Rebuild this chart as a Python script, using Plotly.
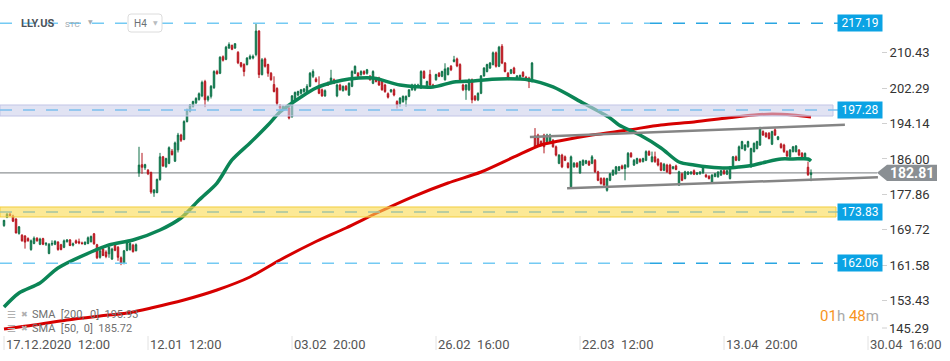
import plotly.graph_objects as go

# ---------------- data ----------------
OPEN = [170.7,172.6,173.3,172.9,172.2,168.9,168.5,168.3,167.7,165.2,166.6,167.8,166.4,167.7,166.4,164.3,166.4,166.4,166.9,166.3,
        165.7,167.0,167.4,166.2,167.2,167.0,166.7,166.4,166.6,167.0,168.8,166.3,163.4,165.3,164.6,164.2,163.0,166.5,165.7,163.3,
        162.0,165.0,165.2,166.2,164.9,
        182.8,184.7,184.0,183.4,182.9,178.2,178.3,181.3,186.5,184.2,185.0,187.8,185.5,188.1,191.5,190.5,194.6,197.0,198.1,198.9,
        199.7,200.5,203.8,199.6,200.4,202.4,206.1,205.7,209.5,208.9,211.5,212.1,211.5,210.5,208.1,207.7,207.7,209.1,209.2,210.0,
        215.4,205.4,209.0,207.7,205.7,203.1,202.2,
        198.2,197.7,198.0,197.7,195.7,199.6,200.7,201.1,201.5,201.1,202.7,205.0,204.4,202.7,201.9,200.5,203.4,203.4,204.2,200.5,
        203.0,201.7,202.7,200.7,202.7,205.7,205.7,205.4,206.1,205.7,205.0,203.4,204.6,204.6,203.8,203.0,201.0,201.5,201.9,199.2,
        198.8,199.2,199.6,200.4,201.9,201.9,202.7,202.3,206.1,202.7,205.4,203.0,204.2,205.7,205.0,204.2,205.4,207.3,208.4,209.0,
        207.7,203.0,201.9,201.9,204.2,200.4,199.6,201.1,205.1,206.1,206.9,207.7,210.4,207.3,211.9,208.05,205.7,205.7,206.9,204.4,
        204.8,205.9,204.8,204.6,203.8,191.3,191.5,190.0,191.5,190.0,190.0,190.3,188.8,185.0,
        186.9,186.5,185.0,179.6,184.2,185.0,182.8,184.6,185.0,185.4,185.0,185.7,183.05,181.5,181.5,178.8,181.1,182.3,182.6,183.4,
        184.4,183.8,184.2,187.3,184.6,185.0,185.9,185.4,185.7,187.7,185.4,186.5,185.9,185.0,183.4,184.6,184.6,183.8,184.4,180.0,
        182.6,181.5,182.5,182.6,183.3,182.5,182.6,182.8,182.3,182.0,180.7,182.0,181.9,182.3,183.3,182.5,181.5,184.2,186.5,185.7,
        188.4,188.05,188.8,184.2,187.7,188.4,189.2,192.3,191.9,191.9,189.4,192.7,190.5,189.4,189.2,187.7,186.5,187.7,187.7,188.05,
        187.3,186.1,184.1,182.4]
HIGH = [172.0,173.6,173.8,173.2,172.4,170.6,168.7,168.5,168.0,167.5,168.2,168.0,167.9,167.9,166.9,166.7,167.3,167.3,167.1,166.5,
        167.5,167.6,167.6,166.8,167.5,167.7,167.0,167.0,168.2,168.4,169.0,166.5,165.2,165.6,165.0,165.9,165.6,166.8,166.0,163.6,
        165.1,167.2,166.9,166.5,166.6,
        188.8,187.4,184.9,183.7,183.1,179.0,181.5,187.4,186.7,186.3,188.9,188.3,190.0,192.0,191.8,194.9,197.6,198.6,199.4,200.2,
        201.3,204.0,204.2,200.6,203.0,206.4,206.5,209.6,209.8,212.0,212.8,212.3,212.6,210.8,208.3,208.0,209.4,210.0,210.0,217.2,
        215.6,209.2,209.3,207.9,206.0,205.0,202.5,
        198.6,198.3,198.3,198.0,200.7,201.5,201.7,202.1,202.3,203.2,206.0,206.6,204.8,205.0,202.2,202.0,203.8,206.5,204.5,203.3,
        203.3,202.9,203.0,203.6,206.4,207.5,206.0,206.4,206.4,206.7,205.3,206.4,204.9,204.9,204.1,203.3,201.3,202.1,202.2,199.5,
        200.2,200.6,200.6,202.0,203.3,203.3,203.3,206.4,206.4,204.0,206.5,203.3,205.6,206.0,206.3,208.0,207.1,207.6,209.7,209.3,
        208.0,203.3,203.3,204.5,204.5,200.7,201.3,205.3,207.1,207.9,208.3,210.7,210.7,212.0,212.4,208.3,206.0,206.7,207.2,205.3,
        205.4,206.2,205.1,204.9,208.3,193.1,191.8,190.3,191.8,191.8,191.8,190.6,189.1,187.1,
        187.2,186.8,185.3,186.8,185.3,185.3,185.6,185.9,185.8,185.7,186.9,186.0,183.3,181.8,181.8,181.7,182.8,183.6,184.4,184.4,
        184.7,184.8,187.6,187.6,186.0,186.3,186.2,186.3,188.0,188.0,187.7,187.7,186.2,185.3,185.1,184.9,184.9,184.4,184.7,183.3,
        182.9,183.3,183.2,183.2,183.6,183.0,183.2,184.4,182.6,182.3,182.5,182.8,183.2,183.5,183.6,183.5,184.4,186.7,186.8,189.1,
        190.2,189.4,190.2,188.6,189.8,190.2,193.4,192.6,192.2,192.2,192.5,193.1,191.3,189.7,189.5,188.0,188.3,189.0,189.2,188.3,
        187.6,187.5,185.4,183.6]
LOW = [170.4,172.4,172.9,171.5,168.9,168.6,167.0,165.4,167.0,164.9,166.4,167.0,166.2,166.2,166.0,164.1,166.0,166.2,164.9,165.0,
       165.5,166.8,166.0,165.9,166.5,166.4,166.3,166.2,166.4,166.8,166.3,163.0,163.1,163.7,163.2,163.3,162.8,164.8,162.6,161.6,
       161.8,164.8,164.9,164.5,164.8,
       181.9,182.6,183.5,182.3,178.0,177.3,178.1,181.0,184.2,184.0,184.8,186.8,185.3,187.5,189.9,190.3,194.4,196.7,197.8,198.6,
       199.4,200.2,197.9,199.2,199.9,202.1,205.4,205.5,208.4,208.7,211.3,211.0,211.3,207.8,207.0,205.0,207.5,208.8,208.9,209.6,
       204.6,205.2,207.0,204.9,204.0,201.3,198.3,
       197.3,197.4,197.2,195.1,195.5,199.4,200.4,200.8,201.2,200.9,202.5,204.6,203.6,200.9,200.3,200.3,202.8,203.2,203.2,200.2,
       201.7,201.5,201.7,200.5,202.5,205.5,204.8,205.1,205.3,205.4,204.0,203.2,203.6,202.8,201.7,201.2,199.9,201.2,200.4,197.6,
       198.0,198.9,198.0,200.2,201.7,201.6,202.5,202.1,204.4,202.5,202.8,202.4,204.0,204.8,204.8,204.0,205.2,206.2,208.2,207.1,
       203.9,201.6,199.6,201.6,198.8,199.3,199.3,200.9,204.9,205.9,206.7,207.5,207.0,207.1,207.8,205.9,204.3,205.5,205.5,204.2,
       204.6,204.8,204.1,202.3,203.6,188.6,189.0,188.9,187.3,189.8,189.7,188.6,186.6,184.8,
       183.9,185.5,183.8,179.4,184.0,184.0,182.6,184.4,184.8,184.4,184.8,182.8,180.9,180.1,179.8,178.5,180.9,182.1,182.4,183.2,
       183.6,181.1,184.0,186.3,184.4,184.8,185.1,185.2,185.5,186.7,185.2,185.1,184.3,183.2,183.2,182.8,182.5,183.6,183.4,179.8,
       180.9,181.3,182.3,182.4,182.3,182.3,182.4,182.6,181.7,181.3,180.5,181.8,181.7,182.1,182.4,182.3,181.3,184.0,185.5,185.5,
       188.2,187.8,188.6,184.0,187.5,188.2,189.0,191.3,190.9,190.5,189.2,191.3,190.3,188.4,187.4,186.4,186.3,187.5,187.5,186.6,
       185.9,185.9,182.1,180.9]
CLOSE = [171.9,173.3,173.0,171.7,169.0,170.4,167.2,166.9,167.2,167.2,167.8,167.2,167.6,166.4,166.6,166.4,166.6,167.1,165.2,165.2,
         167.2,167.4,166.1,166.5,166.7,166.7,166.6,166.9,167.9,168.2,166.5,163.3,164.9,163.8,163.6,165.7,165.3,165.0,163.4,162.0,
         164.9,166.9,166.6,164.7,166.3,
         184.6,184.1,184.7,182.6,178.4,178.9,181.3,186.5,184.4,186.1,188.6,187.0,189.7,191.5,190.3,194.6,197.3,198.4,199.2,199.9,
         201.0,203.6,199.6,200.3,202.7,206.1,205.6,209.4,208.7,211.7,212.3,211.2,212.5,208.1,207.3,206.1,209.2,209.6,209.6,215.4,
         205.4,208.8,207.3,205.7,204.2,201.5,198.8,
         197.7,198.0,197.5,195.4,200.5,201.3,201.5,201.9,202.1,202.7,205.7,206.1,203.8,201.1,200.5,201.7,203.0,204.6,203.4,203.0,
         201.9,202.7,201.9,203.4,206.1,207.3,205.0,206.1,205.6,206.5,204.2,206.1,203.8,203.0,201.9,201.5,200.2,201.9,200.7,198.4,
         200.0,200.4,200.4,201.9,203.0,203.0,203.0,206.1,204.6,203.8,203.0,202.7,205.4,205.0,206.1,206.7,206.9,206.5,208.8,207.4,
         204.2,201.9,203.0,204.2,199.6,199.6,201.1,205.1,206.9,207.7,208.05,210.4,207.3,211.7,208.05,206.1,204.6,206.5,205.7,205.1,
         205.2,205.0,204.4,203.8,208.05,188.8,189.2,189.2,188.8,191.5,191.5,188.8,186.9,186.9,
         184.2,185.7,184.05,186.5,185.0,184.2,185.4,185.7,185.6,184.6,186.5,183.05,181.1,180.35,180.0,181.5,182.6,183.4,184.2,184.2,
         183.8,184.6,187.3,186.5,185.7,186.1,185.4,186.1,187.7,186.9,186.5,185.4,184.6,183.4,184.8,183.05,182.6,184.2,183.6,183.05,
         181.1,183.05,183.0,183.0,182.5,182.8,183.0,184.2,181.9,181.5,182.3,182.6,183.0,183.3,182.6,183.3,184.2,186.5,185.7,188.8,
         190.0,189.2,190.0,188.4,189.6,190.0,193.05,191.5,191.1,190.7,192.3,191.5,191.1,188.6,187.7,186.7,188.05,188.8,189.0,186.9,
         186.1,187.3,182.4,182.81]
assert len(OPEN) == len(HIGH) == len(LOW) == len(CLOSE)
IDX = list(range(len(CLOSE)))

SMA200_IDX = [0,10,21,32,41,49,60,71,82,92,103,114,125,136,148,159,170,179,185,196,208,219,230,241,250,256,263,269]
SMA200_VAL = [146.93,147.85,149.00,149.91,150.60,151.75,153.59,155.89,158.88,162.79,166.69,170.14,173.82,177.26,180.48,
              183.01,186.46,189.22,190.14,191.51,192.66,193.81,194.50,195.42,196.11,196.34,196.11,195.65]
SMA50_IDX = [0,5,12,18,29,35,43,52,59,65,71,76,82,88,92,99,104,110,115,123,132,143,150,156,165,175,183,193,202,205,
             212,219,225,230,235,241,245,250,254,259,263,268,269]
SMA50_VAL = [151.98,155.20,157.50,160.95,164.62,166.23,167.38,169.68,172.44,176.58,180.48,185.77,189.68,193.81,196.80,
             200.25,202.32,203.70,204.39,204.62,203.01,202.55,203.70,203.93,204.39,204.16,202.55,198.87,195.42,193.81,
             191.51,188.53,185.31,184.62,184.16,183.93,184.16,184.62,185.31,186.00,186.00,186.00,185.54]

X_TICK_IDX = [0, 48, 96, 144, 192, 240, 288]
X_TICK_TEXT = ["17.12.2020\u00a0\u00a012:00", "12.01\u00a0\u00a012:00", "03.02\u00a0\u00a020:00", "26.02\u00a0\u00a016:00",
               "22.03\u00a0\u00a012:00", "13.04\u00a0\u00a020:00", "30.04\u00a0\u00a016:00"]
Y_TICK_VALS = [153.43, 161.58, 169.72, 177.86, 186.00, 194.14, 202.29, 210.43]
Y_TICK_LOW = 145.29

LEVEL_TOP = 217.19
LEVEL_ZONE_BLUE = 197.28
LEVEL_ZONE_YELLOW = 173.83
LEVEL_LOW = 162.06
ZONE_BLUE = (195.88, 198.41)
ZONE_YELLOW = (172.67, 174.97)
LAST_PRICE = 182.81
TREND_UPPER = ([175.3, 280.3], [191.05, 193.86])
TREND_LOWER = ([187.7, 291.3], [179.26, 181.79])
SMA200_LAST = "195.93"
SMA50_LAST = "185.72"

# ---------------- layout geometry ----------------
W, H = 950, 361
PW, PH = 881, 336          # plot area in px (left=0, top=0)
Y_RANGE = [145.32, 222.54]
X_RANGE = [-4/3, 877/3]
FONT = "Roboto"


def px(x):
    return x / PW


def py(y):
    return 1 - y / PH


fig = go.Figure()

fig.add_trace(go.Candlestick(
    x=IDX, open=OPEN, high=HIGH, low=LOW, close=CLOSE,
    increasing=dict(line=dict(color="#0e6e47", width=1), fillcolor="#22a06b"),
    decreasing=dict(line=dict(color="#b3141d", width=1), fillcolor="#e5303a"),
    whiskerwidth=0, hoverinfo="skip", showlegend=False))

fig.add_trace(go.Scatter(x=SMA200_IDX, y=SMA200_VAL, mode="lines",
                         line=dict(color="#d60000", width=3, shape="spline", smoothing=0.8),
                         hoverinfo="skip", showlegend=False))
fig.add_trace(go.Scatter(x=SMA50_IDX, y=SMA50_VAL, mode="lines",
                         line=dict(color="#0b8556", width=3.5, shape="spline", smoothing=0.8),
                         hoverinfo="skip", showlegend=False))

shapes = []
# current price line (below candles)
shapes.append(dict(type="line", xref="paper", yref="y", x0=0, x1=px(877), y0=LAST_PRICE, y1=LAST_PRICE,
                   line=dict(color="#8f9396", width=1.3), layer="below"))
# zones (semi-transparent, above)
shapes.append(dict(type="rect", xref="paper", yref="y", x0=0, x1=px(833), y0=ZONE_BLUE[0], y1=ZONE_BLUE[1],
                   fillcolor="rgba(205,208,235,0.6)", line=dict(color="#c2c5e6", width=1), layer="above"))
shapes.append(dict(type="rect", xref="paper", yref="y", x0=0, x1=px(836), y0=ZONE_YELLOW[0], y1=ZONE_YELLOW[1],
                   fillcolor="rgba(250,218,80,0.6)", line=dict(color="#f2cd3e", width=1), layer="above"))
# dashed levels
for lvl, segs in [(LEVEL_TOP, [(0, 650, "#74caf3"), (650, 838, "#2aa6e2")]),
                  (LEVEL_LOW, [(0, 650, "#74caf3"), (650, 838, "#2aa6e2")]),
                  (LEVEL_ZONE_BLUE, [(0, 838, "#7cc0ee")]),
                  (LEVEL_ZONE_YELLOW, [(0, 838, "#a3c3a4")])]:
    for a, b, col in segs:
        shapes.append(dict(type="line", xref="paper", yref="y", x0=px(a), x1=px(b), y0=lvl, y1=lvl,
                           line=dict(color=col, width=1.5, dash="12px,11px"), layer="above"))
# channel trend lines
for xs, ys in [TREND_UPPER, TREND_LOWER]:
    shapes.append(dict(type="line", xref="x", yref="y", x0=xs[0], x1=xs[1], y0=ys[0], y1=ys[1],
                       line=dict(color="#858585", width=2.5), layer="above"))
# last price arrow label
ah = 1.84
shapes.append(dict(type="path", xref="paper", yref="y",
                   path=(f"M {px(877)},{LAST_PRICE} L {px(887)},{LAST_PRICE+ah} L {px(937)},{LAST_PRICE+ah} "
                         f"L {px(937)},{LAST_PRICE-ah} L {px(887)},{LAST_PRICE-ah} Z"),
                   fillcolor="#8a8f93", line=dict(width=0), layer="above"))
# x tick marks
for t in X_TICK_IDX:
    shapes.append(dict(type="line", xref="x", yref="paper", x0=t, x1=t, y0=py(336), y1=py(350),
                       line=dict(color="#e2e2e2", width=1), layer="above"))


def rounded(x0, y0, x1, y1, r):
    X0, X1, R = px(x0), px(x1), r / PW
    Y0, Y1, RY = py(y0), py(y1), r / PH
    return (f"M {X0+R},{Y0} L {X1-R},{Y0} Q {X1},{Y0} {X1},{Y0-RY} L {X1},{Y1+RY} Q {X1},{Y1} {X1-R},{Y1} "
            f"L {X0+R},{Y1} Q {X0},{Y1} {X0},{Y1+RY} L {X0},{Y0-RY} Q {X0},{Y0} {X0+R},{Y0} Z")


shapes.append(dict(type="path", xref="paper", yref="paper", path=rounded(128, 14, 162, 32, 3),
                   fillcolor="white", line=dict(color="#dcdcdc", width=1), layer="above"))

ann = []
# y axis lowest label (lifted like in the reference)
ann.append(dict(xref="paper", yref="paper", x=px(887), y=py(328), text=f"{Y_TICK_LOW:.2f}", showarrow=False,
                xanchor="left", yanchor="middle", font=dict(family=FONT, size=13, color="#333333")))
shapes.append(dict(type="line", xref="paper", yref="paper", x0=px(882), x1=px(887), y0=py(328), y1=py(328),
                   line=dict(color="#d0d0d0", width=1), layer="above"))
# x tick labels
for t, s in zip(X_TICK_IDX, X_TICK_TEXT):
    ann.append(dict(xref="x", yref="paper", x=t, y=py(344), text=s, showarrow=False,
                    xanchor="left", yanchor="middle", xshift=0,
                    font=dict(family=FONT, size=13, color="#555555")))
# level boxes
for lvl in [LEVEL_TOP, LEVEL_ZONE_BLUE, LEVEL_ZONE_YELLOW, LEVEL_LOW]:
    ann.append(dict(xref="paper", yref="y", x=px(860), y=lvl, text=f"{lvl:.2f}", showarrow=False,
                    xanchor="center", yanchor="middle", bgcolor="#0ba3e4", width=44, height=16, borderpad=0,
                    font=dict(family=FONT, size=12, color="white")))
ann.append(dict(xref="paper", yref="y", x=px(912), y=LAST_PRICE, text=f"<b>{LAST_PRICE:.2f}</b>", showarrow=False,
                xanchor="center", yanchor="middle", font=dict(family=FONT, size=14, color="white")))
# header
ann.append(dict(xref="paper", yref="paper", x=px(19), y=py(24), text="<b>LLY.US</b>", showarrow=False,
                xanchor="left", yanchor="middle", font=dict(family=FONT, size=11, color="#4d5359")))
ann.append(dict(xref="paper", yref="paper", x=px(63), y=py(25), text="STC", showarrow=False,
                xanchor="left", yanchor="middle", font=dict(family=FONT, size=8, color="#a0a6ab")))
ann.append(dict(xref="paper", yref="paper", x=px(86), y=py(22), text="▼", showarrow=False,
                xanchor="left", yanchor="middle", font=dict(family="DejaVu Sans", size=6, color="#a8adb1")))
ann.append(dict(xref="paper", yref="paper", x=px(132), y=py(24), text="H4", showarrow=False,
                xanchor="left", yanchor="middle", font=dict(family=FONT, size=10, color="#6b7075")))
ann.append(dict(xref="paper", yref="paper", x=px(151), y=py(23), text="▼", showarrow=False,
                xanchor="left", yanchor="middle", font=dict(family="DejaVu Sans", size=6, color="#b8bcbf")))
# SMA legend
for yy, label in [(314, f"SMA\u00a0\u00a0[200,\u00a0\u00a00]\u00a0\u00a0{SMA200_LAST}"),
                  (328, f"SMA\u00a0\u00a0[50,\u00a0\u00a00]\u00a0\u00a0{SMA50_LAST}")]:
    ann.append(dict(xref="paper", yref="paper", x=px(5), y=py(yy), text="☰", showarrow=False,
                    xanchor="left", yanchor="middle", font=dict(family="DejaVu Sans", size=10, color="#b0b0b0")))
    ann.append(dict(xref="paper", yref="paper", x=px(19), y=py(yy), text="✖", showarrow=False,
                    xanchor="left", yanchor="middle", font=dict(family="DejaVu Sans", size=8, color="#b0b0b0")))
    ann.append(dict(xref="paper", yref="paper", x=px(30), y=py(yy), text=label, showarrow=False,
                    xanchor="left", yanchor="middle", font=dict(family=FONT, size=11, color="#707070")))
# countdown
ann.append(dict(xref="paper", yref="paper", x=px(881), y=py(316),
                text=("<span style='color:#f7941d'>01</span><span style='color:#a9a9a9'>h</span> "
                      "<span style='color:#f7941d'>48</span><span style='color:#a9a9a9'>m</span>"),
                showarrow=False, xanchor="right", yanchor="middle", font=dict(family=FONT, size=15)))

fig.update_layout(
    width=W, height=H, autosize=False,
    margin=dict(l=0, r=W - PW, t=0, b=H - PH, pad=0),
    paper_bgcolor="white", plot_bgcolor="white",
    showlegend=False, hovermode=False, dragmode=False,
    shapes=shapes, annotations=ann,
    xaxis=dict(range=X_RANGE, showticklabels=False, showgrid=False, zeroline=False, showline=False,
               ticks="", rangeslider=dict(visible=False), fixedrange=True),
    yaxis=dict(range=Y_RANGE, side="right", tickmode="array", tickvals=Y_TICK_VALS,
               ticktext=[f"{v:.2f}" for v in Y_TICK_VALS], ticks="outside", ticklen=5, tickcolor="#d0d0d0",
               showgrid=False, zeroline=False, showline=False, fixedrange=True,
               tickfont=dict(family=FONT, size=13, color="#333333")),
)

fig.write_html("out.html", config={"displayModeBar": False, "staticPlot": True},
               post_script="document.body.style.margin='0px';document.body.style.overflow='hidden';")
